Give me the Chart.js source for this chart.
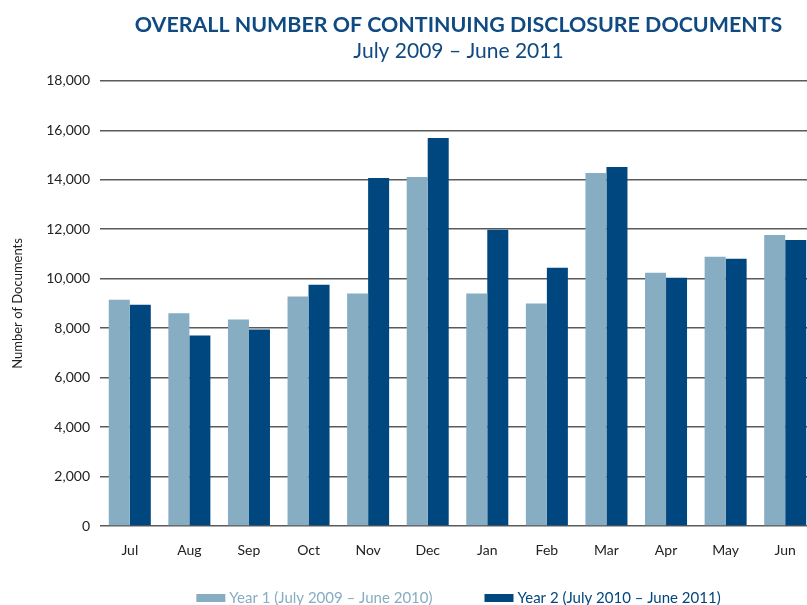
<!DOCTYPE html>
<html><head><meta charset="utf-8">
<script src="https://cdn.jsdelivr.net/npm/chart.js@4"></script>
<style>html,body{margin:0;padding:0;overflow:hidden;background:#fff}#wrap{width:917px;height:605px;position:relative}</style>
</head><body><div id="wrap"><canvas id="c"></canvas></div>
<script>
const titleText = 'OVERALL NUMBER OF CONTINUING DISCLOSURE DOCUMENTS';
const subtitleText = 'July 2009 – June 2011';
const yAxisTitle = 'Number of Documents';
const months = ['Jul','Aug','Sep','Oct','Nov','Dec','Jan','Feb','Mar','Apr','May','Jun'];
const year1Label = 'Year 1 (July 2009 – June 2010)';
const year2Label = 'Year 2 (July 2010 – June 2011)';
const year1 = [9150, 8600, 8350, 9280, 9400, 14110, 9400, 9000, 14270, 10240, 10890, 11770];
const year2 = [8950, 7700, 7950, 9760, 14070, 15690, 11980, 10440, 14520, 10040, 10810, 11570];
const yMin = 0, yMax = 18000, yStep = 2000;

const FONT = 'Lato, "Open Sans", sans-serif';
const C1 = '#86adc2', C2 = '#00467f', TITLE_C = '#0f4a82';

const bottomLegend = {
  id: 'bottomLegend',
  afterDraw(chart) {
    const ctx = chart.ctx;
    ctx.save();
    ctx.font = '15px ' + FONT;
    ctx.textBaseline = 'middle';
    const boxW = 29, boxH = 8, gap = 4, itemGap = 52;
    const items = chart.data.datasets.map(ds => ({text: ds.label, color: ds.backgroundColor, w: boxW + gap + ctx.measureText(ds.label).width}));
    const total = items.reduce((s, it) => s + it.w, 0) + itemGap * (items.length - 1);
    let x = chart.width / 2 - total / 2;
    const y = 598;
    items.forEach(it => {
      ctx.fillStyle = it.color;
      ctx.fillRect(x, y - boxH / 2, boxW, boxH);
      ctx.fillText(it.text, x + boxW + gap, y);
      x += it.w + itemGap;
    });
    ctx.restore();
  }
};

new Chart(document.getElementById('c'), {
  type: 'bar',
  data: {
    labels: months,
    datasets: [
      {label: year1Label, data: year1, backgroundColor: C1, categoryPercentage: 0.705, barPercentage: 1.0},
      {label: year2Label, data: year2, backgroundColor: C2, categoryPercentage: 0.705, barPercentage: 1.0}
    ]
  },
  options: {
    responsive: true,
    maintainAspectRatio: false,
    animation: false,
    layout: {padding: 0},
    plugins: {
      legend: {display: false},
      tooltip: {enabled: false},
      title: {display: true, text: titleText, color: TITLE_C, font: {family: FONT, size: 21.4, weight: 'bold'}, padding: {top: 12, bottom: 0}},
      subtitle: {display: true, text: subtitleText, color: TITLE_C, font: {family: FONT, size: 21, weight: 'normal'}, padding: {top: 1, bottom: 17}}
    },
    scales: {
      x: {
        grid: {display: false, drawTicks: false},
        border: {display: false},
        ticks: {color: '#222', font: {family: FONT, size: 14}, padding: 16},
        afterFit: (axis) => { axis.height = 79; }
      },
      y: {
        min: yMin, max: yMax,
        grid: {color: '#5a5a5a', lineWidth: 1.6, drawTicks: false},
        border: {display: false},
        ticks: {stepSize: yStep, color: '#222', font: {family: FONT, size: 14}, padding: 10,
          callback: v => v.toLocaleString('en-US')},
        title: {display: true, text: yAxisTitle, color: '#222', font: {family: FONT, size: 13}, padding: {top: 10, bottom: 0}},
        afterFit: (axis) => { axis.width = 100; }
      },
      yRight: {
        position: 'right',
        display: true,
        min: yMin, max: yMax,
        grid: {display: false, drawTicks: false},
        border: {display: false},
        ticks: {display: false},
        afterFit: (axis) => { axis.width = 102; }
      }
    }
  },
  plugins: [bottomLegend]
});
</script>
</body></html>
